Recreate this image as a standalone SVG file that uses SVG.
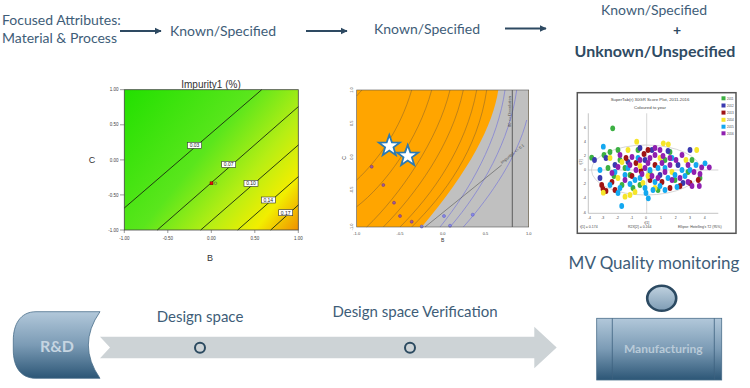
<svg xmlns="http://www.w3.org/2000/svg" width="750" height="388" viewBox="0 0 750 388">
<defs>
<style>
.t{font-family:Lato,"Open Sans","Liberation Sans",sans-serif;fill:#3e5d78}
.ax{font-family:"Liberation Sans",Arial,sans-serif;fill:#333}
.tk{font-family:"Liberation Sans",Arial,sans-serif;fill:#444}
.cl{fill:none;stroke:#1a2a10;stroke-width:0.9}
.lb{fill:#fff;stroke:#333;stroke-width:0.6}
.lt{font-family:"Liberation Sans",Arial,sans-serif;font-size:5px;fill:#222;text-anchor:middle}
.oc{fill:none;stroke:#7a5a30;stroke-width:0.6;opacity:0.8}
.bc{fill:none;stroke:#7a7ad8;stroke-width:0.7}
.pm{fill:#a05a9a;stroke:#6a3070;stroke-width:0.5}
.bm{fill:#8a8ae8;stroke:#5050c0;stroke-width:0.5}
.conn{stroke:#2e4a62;stroke-width:2.2;fill:none}
.c1{fill:#3cb043}.c2{fill:#3a3ab0}.c3{fill:#a01414}.c4{fill:#f5e52a}.c5{fill:#14a8f0}.c6{fill:#9020b0}
.d ellipse{rx:2.4px;ry:2.9px}
</style>
<linearGradient id="g1" gradientUnits="userSpaceOnUse" x1="124" y1="90" x2="298" y2="230">
<stop offset="0" stop-color="#22e000"/>
<stop offset="0.45" stop-color="#5ae61c"/>
<stop offset="0.68" stop-color="#b6ee14"/>
<stop offset="0.85" stop-color="#f2ee00"/>
<stop offset="1" stop-color="#f09000"/>
</linearGradient>
<linearGradient id="gb" x1="0" y1="0" x2="0" y2="1">
<stop offset="0" stop-color="#b2c8da"/>
<stop offset="0.5" stop-color="#7b9bb5"/>
<stop offset="1" stop-color="#2c5676"/>
</linearGradient>
<linearGradient id="gc" x1="0" y1="0" x2="0" y2="1">
<stop offset="0" stop-color="#c0d2e0"/>
<stop offset="1" stop-color="#7e9cb4"/>
</linearGradient>
<marker id="ah" viewBox="0 0 10 10" refX="9" refY="5" markerWidth="3.2" markerHeight="3.2" orient="auto">
<path d="M0,0 L10,5 L0,10 Z" fill="#2e4a62"/>
</marker>
<polygon id="star" points="0,-11 2.6,-3.6 10.5,-3.4 4.2,1.4 6.5,9 0,4.5 -6.5,9 -4.2,1.4 -10.5,-3.4 -2.6,-3.6"/>
</defs>

<g id="label-focused">
<text class="t" x="2" y="25" font-size="14">Focused Attributes:</text>
<text class="t" x="2" y="43" font-size="14">Material &amp; Process</text>
</g>
<g id="label-known1"><text class="t" x="170" y="36" font-size="14">Known/Specified</text></g>
<g id="label-known2"><text class="t" x="374" y="34" font-size="14">Known/Specified</text></g>
<g id="label-known3">
<text class="t" x="654" y="15" font-size="14" text-anchor="middle">Known/Specified</text>
<text class="t" x="677" y="35" font-size="14" font-weight="bold" text-anchor="middle" style="fill:#2f4b63">+</text>
<text class="t" x="655" y="57" font-size="16" font-weight="bold" text-anchor="middle" style="fill:#2f4b63">Unknown/Unspecified</text>
</g>

<g id="connectors">
<line class="conn" x1="120" y1="31" x2="161" y2="31" marker-end="url(#ah)"/>
<line class="conn" x1="306" y1="31" x2="347" y2="31" marker-end="url(#ah)"/>
<line class="conn" x1="505" y1="28.5" x2="546" y2="28.5" marker-end="url(#ah)"/>
</g>

<g id="plot-impurity">
<text class="ax" x="211" y="88" font-size="10" text-anchor="middle">Impurity1 (%)</text>
<rect x="124.3" y="89.7" width="174" height="140.3" fill="url(#g1)" stroke="#444" stroke-width="0.8"/>
<line class="cl" x1="124.3" y1="208" x2="261.7" y2="89.7"/>
<line class="cl" x1="157.3" y1="230" x2="298.3" y2="106.7"/>
<line class="cl" x1="200.7" y1="230" x2="298.3" y2="145"/>
<line class="cl" x1="237.7" y1="230" x2="298.3" y2="176.7"/>
<line class="cl" x1="270.7" y1="230" x2="298.3" y2="205"/>
<rect class="lb" x="187.5" y="142.3" width="14" height="6"/><text class="lt" x="194.5" y="147.3">0.03</text>
<rect class="lb" x="221.7" y="161.3" width="14" height="6"/><text class="lt" x="228.7" y="166.3">0.07</text>
<rect class="lb" x="244" y="180.3" width="14" height="6"/><text class="lt" x="251" y="185.3">0.10</text>
<rect class="lb" x="261.3" y="197" width="14" height="6"/><text class="lt" x="268.3" y="202">0.14</text>
<rect class="lb" x="278.7" y="209.7" width="14" height="6"/><text class="lt" x="285.7" y="214.7">0.17</text>
<rect x="210" y="181.8" width="3" height="3" fill="#e01010" stroke="#600" stroke-width="0.4"/>
<circle cx="215.5" cy="183.3" r="1.3" fill="none" stroke="#335" stroke-width="0.4"/>
<g stroke="#555" stroke-width="0.6">
<line x1="120" y1="89.7" x2="124.3" y2="89.7"/><line x1="120" y1="124.8" x2="124.3" y2="124.8"/><line x1="120" y1="159.9" x2="124.3" y2="159.9"/><line x1="120" y1="194.9" x2="124.3" y2="194.9"/><line x1="120" y1="230" x2="124.3" y2="230"/>
<line x1="124.3" y1="230" x2="124.3" y2="233"/><line x1="167.8" y1="230" x2="167.8" y2="233"/><line x1="211.3" y1="230" x2="211.3" y2="233"/><line x1="254.8" y1="230" x2="254.8" y2="233"/><line x1="298.3" y1="230" x2="298.3" y2="233"/>
</g>
<g class="tk" font-size="4.5" text-anchor="end">
<text x="118.5" y="91.3">1.00</text><text x="118.5" y="126.4">0.50</text><text x="118.5" y="161.5">0.00</text><text x="118.5" y="196.5">-0.50</text><text x="118.5" y="231.6">-1.00</text>
</g>
<g class="tk" font-size="4.5" text-anchor="middle">
<text x="124.3" y="239.5">-1.00</text><text x="167.8" y="239.5">-0.50</text><text x="211.3" y="239.5">0.00</text><text x="254.8" y="239.5">0.50</text><text x="298.3" y="239.5">1.00</text>
</g>
<text class="ax" x="92" y="163" font-size="9" text-anchor="middle">C</text>
<text class="ax" x="210" y="261" font-size="9" text-anchor="middle">B</text>
</g>

<g id="plot-designspace">
<rect x="356.7" y="90" width="172" height="137" fill="#ffa500"/>
<path d="M498.3,90 C493,125 470,170 421.7,227 L528.7,227 L528.7,90 Z" fill="#c0c0c0"/>
<path class="oc" d="M356.7,96 Q360,92 362,90"/>
<path class="oc" d="M356.7,180 C378,160 400,130 411.7,90"/>
<path class="oc" d="M356.7,206.7 C385,185 418,140 431.7,90"/>
<path class="oc" d="M366.7,227 C400,195 438,140 450,90"/>
<path class="oc" d="M383.3,227 C415,195 452,145 463.3,90"/>
<path class="oc" d="M400,227 C432,195 466,148 476.7,90"/>
<path class="oc" d="M411.7,227 C444,195 478,150 486.7,90"/>
<path class="bc" d="M440,227 C470,190 498,140 505,90"/>
<path class="bc" d="M450,227 C482,190 510,140 516.7,90"/>
<path class="bc" d="M463.3,227 C492,195 518,155 526.7,120"/>
<line x1="512.3" y1="90" x2="512.3" y2="227" stroke="#444" stroke-width="0.8"/>
<line x1="425" y1="227" x2="501.7" y2="165" stroke="#555" stroke-width="0.6"/>
<text class="tk" font-size="4" transform="translate(502,164) rotate(-39)">Impurity1 &lt;= 0.1</text>
<text class="tk" font-size="4" transform="translate(511,127) rotate(-90)">80 &lt;= Dissolution</text>
<circle class="pm" cx="371.7" cy="166.7" r="1.5"/><circle class="pm" cx="383.3" cy="185" r="1.5"/><circle class="pm" cx="394" cy="202.7" r="1.5"/><circle class="pm" cx="400" cy="216" r="1.5"/><circle class="pm" cx="411.7" cy="221.7" r="1.5"/><circle class="bm" cx="421.7" cy="226.5" r="1.5"/>
<circle class="bm" cx="444" cy="216" r="1.5"/><circle class="bm" cx="450" cy="225.7" r="1.5"/><circle class="bm" cx="472.7" cy="214.7" r="1.5"/>
<rect x="356.7" y="90" width="172" height="137" fill="none" stroke="#555" stroke-width="0.6"/>
<use href="#star" x="389.3" y="146" fill="#fff" stroke="#2a7ab4" stroke-width="1.8"/>
<use href="#star" x="407.7" y="156" fill="#fff" stroke="#2a7ab4" stroke-width="1.8"/>
<g class="tk" font-size="4" text-anchor="middle">
<text transform="translate(353,90) rotate(-90)">1.0</text><text transform="translate(353,123.3) rotate(-90)">0.5</text><text transform="translate(353,157) rotate(-90)">0.0</text><text transform="translate(353,190) rotate(-90)">-0.5</text><text transform="translate(353,227) rotate(-90)">-1.0</text>
<text x="356.7" y="234.5">-1.0</text><text x="400" y="234.5">-0.5</text><text x="442.7" y="234.5">0.0</text><text x="485.5" y="234.5">0.5</text><text x="528.7" y="234.5">1.0</text>
</g>
<text class="ax" font-size="5" text-anchor="middle" transform="translate(346,158) rotate(-90)">C</text>
<text class="ax" x="442.7" y="242" font-size="5" text-anchor="middle">B</text>
</g>

<g id="plot-scores">
<rect x="577.3" y="92.7" width="158.7" height="140.6" fill="#fff" stroke="#555" stroke-width="1.5"/>
<text class="tk" x="650" y="101" text-anchor="middle" font-size="4.3">SuperTab(r) 30GR Score Plot, 2011-2016</text>
<text class="tk" x="650" y="109" text-anchor="middle" font-size="4.3">Coloured to year</text>
<line x1="588.3" y1="113.3" x2="588.3" y2="213.3" stroke="#888" stroke-width="0.5"/>
<line x1="588.3" y1="213.3" x2="718.3" y2="213.3" stroke="#888" stroke-width="0.5"/>
<line x1="646.7" y1="113.3" x2="646.7" y2="213.3" stroke="#bbb" stroke-width="0.6"/>
<line x1="588.3" y1="170" x2="718.3" y2="170" stroke="#bbb" stroke-width="0.6"/>
<ellipse cx="646" cy="170" rx="54.5" ry="25" fill="none" stroke="#ccc" stroke-width="0.8"/>
<g class="tk" font-size="3.5" text-anchor="end">
<text x="586" y="128.5">6</text><text x="586" y="142.5">4</text><text x="586" y="157">2</text><text x="586" y="171">0</text><text x="586" y="185">-2</text><text x="586" y="199">-4</text><text x="586" y="213.5">-6</text>
</g>
<g class="tk" font-size="3.5" text-anchor="middle">
<text x="589.3" y="219">-4</text><text x="602.7" y="219">-3</text><text x="617.3" y="219">-2</text><text x="631.7" y="219">-1</text><text x="646" y="219">0</text><text x="661" y="219">1</text><text x="675.7" y="219">2</text><text x="690" y="219">3</text><text x="704.7" y="219">4</text>
<text x="646.7" y="223.5">t[1]</text>
<text transform="translate(582,162) rotate(-90)">t[2]</text>
</g>
<g class="tk" font-size="3.5">
<text x="580" y="228">t[1] = 0.174</text><text x="628" y="228">R2X[2] = 0.164</text><text x="678" y="228">Ellipse: Hotelling's T2 (95%)</text>
</g>
<g class="d">
<g class="c1"><ellipse cx="612.7" cy="128.3"/><ellipse cx="591.7" cy="157.7"/><ellipse cx="604" cy="155"/><ellipse cx="610" cy="152"/><ellipse cx="618" cy="150"/><ellipse cx="620" cy="160"/><ellipse cx="625" cy="168"/><ellipse cx="630" cy="175"/><ellipse cx="614" cy="176"/><ellipse cx="622" cy="185"/><ellipse cx="638" cy="150"/><ellipse cx="650" cy="172"/><ellipse cx="665" cy="160"/><ellipse cx="675" cy="180"/><ellipse cx="688" cy="172"/><ellipse cx="692" cy="160"/><ellipse cx="700" cy="178"/><ellipse cx="608" cy="168"/><ellipse cx="640" cy="185"/><ellipse cx="670" cy="152"/><ellipse cx="658" cy="190"/><ellipse cx="633" cy="188"/></g>
<g class="c2"><ellipse cx="594.5" cy="160"/><ellipse cx="606" cy="158"/><ellipse cx="640" cy="148"/><ellipse cx="652" cy="150"/><ellipse cx="668" cy="151"/><ellipse cx="690" cy="150"/><ellipse cx="678" cy="165"/><ellipse cx="660" cy="175"/><ellipse cx="628" cy="162"/><ellipse cx="615" cy="165"/><ellipse cx="645" cy="160"/><ellipse cx="683" cy="183"/><ellipse cx="600" cy="178"/></g>
<g class="c3"><ellipse cx="601.7" cy="185"/><ellipse cx="603" cy="189"/><ellipse cx="612" cy="182"/><ellipse cx="626" cy="158"/><ellipse cx="636" cy="163"/><ellipse cx="644" cy="154"/><ellipse cx="655" cy="165"/><ellipse cx="662" cy="182"/><ellipse cx="670" cy="188"/><ellipse cx="680" cy="186"/><ellipse cx="698.3" cy="180"/><ellipse cx="690" cy="183"/><ellipse cx="615" cy="190"/><ellipse cx="606" cy="191"/><ellipse cx="632" cy="176"/><ellipse cx="650" cy="180"/><ellipse cx="648" cy="150"/><ellipse cx="641" cy="171"/></g>
<g class="c4"><ellipse cx="636.7" cy="141.7"/><ellipse cx="663.3" cy="143.3"/><ellipse cx="668.3" cy="144.3"/><ellipse cx="696.7" cy="150"/><ellipse cx="603.3" cy="192.7"/><ellipse cx="625" cy="196.7"/><ellipse cx="635" cy="192"/><ellipse cx="630" cy="195"/><ellipse cx="610" cy="158"/><ellipse cx="622" cy="162"/><ellipse cx="640" cy="166"/><ellipse cx="655" cy="188"/><ellipse cx="672" cy="172"/><ellipse cx="686" cy="160"/><ellipse cx="618" cy="178"/><ellipse cx="648" cy="176"/><ellipse cx="628" cy="150"/><ellipse cx="660" cy="158"/><ellipse cx="643" cy="183"/></g>
<g class="c5"><ellipse cx="603.3" cy="146.7"/><ellipse cx="705" cy="163.3"/><ellipse cx="621.7" cy="206"/><ellipse cx="648.3" cy="198.3"/><ellipse cx="615" cy="172"/><ellipse cx="625" cy="175"/><ellipse cx="635" cy="180"/><ellipse cx="645" cy="188"/><ellipse cx="653" cy="190"/><ellipse cx="660" cy="186"/><ellipse cx="668" cy="178"/><ellipse cx="675" cy="175"/><ellipse cx="682" cy="170"/><ellipse cx="690" cy="170"/><ellipse cx="696" cy="165"/><ellipse cx="640" cy="178"/><ellipse cx="630" cy="184"/><ellipse cx="620" cy="188"/><ellipse cx="650" cy="170"/><ellipse cx="658" cy="168"/><ellipse cx="665" cy="168"/><ellipse cx="610" cy="185"/><ellipse cx="600" cy="170"/><ellipse cx="672" cy="158"/><ellipse cx="638" cy="158"/><ellipse cx="646" cy="193"/><ellipse cx="655" cy="182"/><ellipse cx="665" cy="190"/><ellipse cx="618" cy="193"/><ellipse cx="628" cy="168"/><ellipse cx="677" cy="187"/><ellipse cx="685" cy="176"/></g>
<g class="c6"><ellipse cx="709.3" cy="167.3"/><ellipse cx="701.7" cy="167.3"/><ellipse cx="699.3" cy="186"/><ellipse cx="632" cy="157"/><ellipse cx="640" cy="160"/><ellipse cx="648" cy="163"/><ellipse cx="655" cy="155"/><ellipse cx="662" cy="163"/><ellipse cx="670" cy="165"/><ellipse cx="676" cy="160"/><ellipse cx="682" cy="155"/><ellipse cx="688" cy="165"/><ellipse cx="694" cy="172"/><ellipse cx="660" cy="150"/><ellipse cx="650" cy="158"/><ellipse cx="642" cy="174"/><ellipse cx="636" cy="170"/><ellipse cx="625" cy="180"/><ellipse cx="618" cy="167"/><ellipse cx="612" cy="173"/><ellipse cx="665" cy="172"/><ellipse cx="672" cy="180"/><ellipse cx="658" cy="178"/><ellipse cx="645" cy="168"/><ellipse cx="652" cy="176"/><ellipse cx="630" cy="165"/><ellipse cx="680" cy="178"/><ellipse cx="688" cy="182"/><ellipse cx="692" cy="186"/><ellipse cx="700" cy="174"/><ellipse cx="655" cy="148"/><ellipse cx="663" cy="156"/><ellipse cx="620" cy="155"/><ellipse cx="670" cy="158"/></g>
</g>
<g class="tk" font-size="3">
<rect x="721.5" y="96.3" width="4" height="4" class="c1"/><text x="727" y="99.5">2011</text>
<rect x="721.5" y="103.5" width="4" height="4" class="c2"/><text x="727" y="106.7">2012</text>
<rect x="721.5" y="110.6" width="4" height="4" class="c3"/><text x="727" y="113.8">2013</text>
<rect x="721.5" y="117.8" width="4" height="4" class="c4"/><text x="727" y="121">2014</text>
<rect x="721.5" y="124.7" width="4" height="4" class="c5"/><text x="727" y="127.9">2015</text>
<rect x="721.5" y="131.3" width="4" height="4" class="c6"/><text x="727" y="134.5">2016</text>
</g>
</g>

<g id="timeline-arrow">
<polygon points="100,336.7 534.3,336.7 534.3,326.7 556.7,347.5 534.3,368.3 534.3,358.3 100,358.3 110,347.5" fill="#cdd3d6"/>
</g>
<g id="node-rd">
<path d="M100,311.7 L36,311.7 C20,311.7 13.3,325 13.3,340 L13.3,350 C13.3,366 20,378.3 36,378.3 L100,378.3 Q76.7,345 100,311.7 Z" fill="url(#gb)" stroke="#4a6e8a" stroke-width="0.8"/>
<text x="57" y="352" font-family="Lato,'Open Sans','Liberation Sans',sans-serif" font-size="16" font-weight="bold" fill="#c6d5e1" text-anchor="middle">R&amp;D</text>
</g>
<g id="node-designspace">
<text class="t" x="200" y="322" font-size="15" text-anchor="middle">Design space</text>
<circle cx="200" cy="347.7" r="5" fill="#cdd3d6" stroke="#2b4a60" stroke-width="2"/>
</g>
<g id="node-verification">
<text class="t" x="415" y="317" font-size="15" text-anchor="middle">Design space Verification</text>
<circle cx="410" cy="347.7" r="5" fill="#cdd3d6" stroke="#2b4a60" stroke-width="2"/>
</g>
<g id="node-mv">
<text class="t" x="654" y="268.5" font-size="17" text-anchor="middle">MV Quality monitoring</text>
<ellipse cx="661.7" cy="298.3" rx="14.5" ry="12.5" fill="url(#gc)" stroke="#2c4a62" stroke-width="2.6"/>
</g>
<g id="node-manufacturing">
<rect x="596.7" y="318.3" width="125" height="61.7" fill="url(#gb)" stroke="#4a6e8a" stroke-width="0.8"/>
<line x1="612.3" y1="318.3" x2="612.3" y2="380" stroke="#3e6280" stroke-width="0.8"/>
<line x1="714.3" y1="318.3" x2="714.3" y2="380" stroke="#3e6280" stroke-width="0.8"/>
<text x="663.3" y="353" font-family="Lato,'Open Sans','Liberation Sans',sans-serif" font-size="12" font-weight="bold" fill="#b9cad8" text-anchor="middle">Manufacturing</text>
</g>
</svg>
